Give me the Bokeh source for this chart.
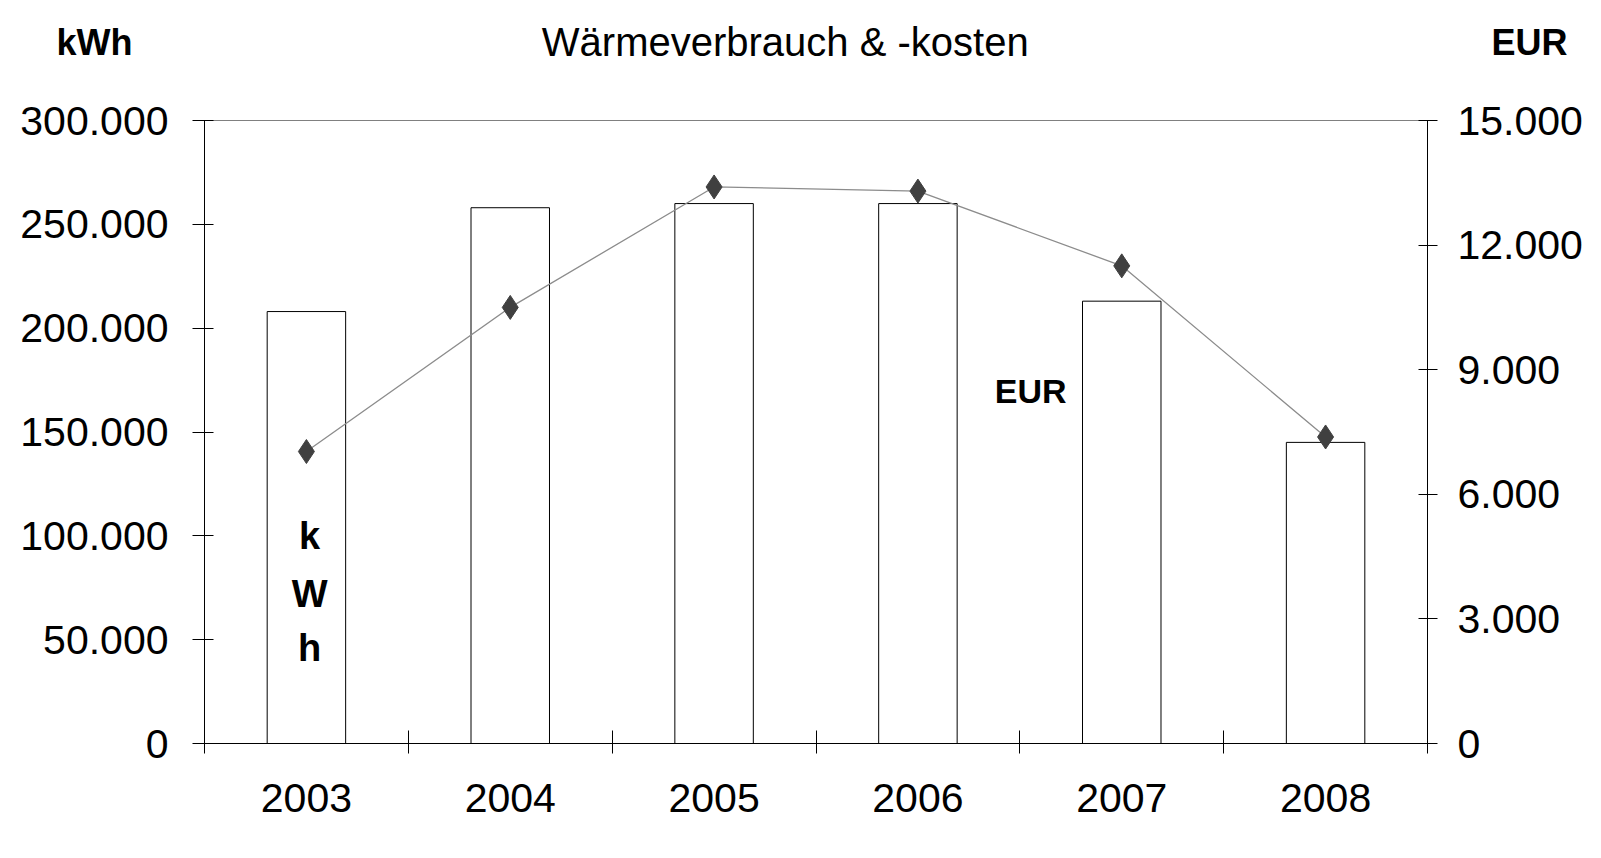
from bokeh.plotting import figure
from bokeh.layouts import column
from bokeh.models import Range1d, LinearAxis, FixedTicker, Label
from bokeh.embed import file_html
from bokeh.resources import INLINE

years = ["2003", "2004", "2005", "2006", "2007", "2008"]
kwh = [208000, 258000, 260000, 260000, 213000, 145000]
eur = [7030, 10500, 13400, 13300, 11500, 7380]
kwh_ticks = [0, 50000, 100000, 150000, 200000, 250000, 300000]
eur_ticks = [0, 3000, 6000, 9000, 12000, 15000]

title_text = "Wärmeverbrauch & -kosten"
left_unit = "kWh"
right_unit = "EUR"

FONT = "Liberation Sans"
W = 1585
BL, BR = 204, 149
HDR_H = 90
HDR_FRAME = 84
xpos = [i + 0.5 for i in range(len(years))]


def de_fmt(v):
    return f"{v:,}".replace(",", ".")


# ---- header strip: title plus unit labels (as axis labels of an empty frame) ----
top = figure(width=W, height=HDR_H, output_backend="svg", toolbar_location=None,
             x_range=Range1d(BL, W - BR), y_range=Range1d(HDR_FRAME, 0),
             min_border_left=BL, min_border_right=BR, min_border_top=0,
             min_border_bottom=HDR_H - HDR_FRAME, x_axis_type=None, y_axis_type=None)
top.xgrid.visible = False
top.ygrid.visible = False
top.outline_line_color = None
top.border_fill_color = "white"
top.background_fill_color = "white"

for side, txt, stand in (("left", left_unit, 72), ("right", right_unit, 64)):
    ax = LinearAxis(ticker=FixedTicker(ticks=[], minor_ticks=[]))
    ax.axis_line_color = None
    ax.major_tick_line_color = None
    ax.minor_tick_line_color = None
    ax.major_label_text_font_size = "0px"
    ax.axis_label = txt
    ax.axis_label_orientation = "horizontal"
    ax.axis_label_text_font = FONT
    ax.axis_label_text_font_size = "36px"
    ax.axis_label_text_font_style = "bold"
    ax.axis_label_text_color = "black"
    ax.axis_label_standoff = stand
    top.add_layout(ax, side)

top.add_layout(Label(x=789, y=41, text=title_text, text_font=FONT,
                     text_font_size="40px", text_color="black", text_align="center",
                     text_baseline="alphabetic"))

# ---- main chart ----
p = figure(width=W, height=752, output_backend="svg", toolbar_location=None,
           x_range=Range1d(0, len(years)), y_range=Range1d(0, 300000),
           min_border_left=BL, min_border_right=BR, min_border_top=30,
           min_border_bottom=99, x_axis_type=None, y_axis_type=None)
p.extra_y_ranges = {"eur": Range1d(0, 15000)}
p.xgrid.visible = False
p.ygrid.visible = False
p.outline_line_color = "#808080"
p.outline_line_width = 1
p.background_fill_color = "white"
p.border_fill_color = "white"

xa = LinearAxis(ticker=FixedTicker(ticks=xpos, minor_ticks=list(range(len(years) + 1))))
xa.major_label_overrides = {x: y for x, y in zip(xpos, years)}
xa.major_tick_in = 0
xa.major_tick_out = 0
xa.minor_tick_in = 13
xa.minor_tick_out = 10
xa.minor_tick_line_color = "black"
xa.axis_line_color = "black"
xa.major_label_text_font = FONT
xa.major_label_text_font_size = "41px"
xa.major_label_text_color = "black"
xa.major_label_standoff = 30
p.add_layout(xa, "below")

ya = LinearAxis(ticker=FixedTicker(ticks=kwh_ticks, minor_ticks=[]))
ya.major_label_overrides = {v: de_fmt(v) for v in kwh_ticks}
ya.major_tick_in = 9
ya.major_tick_out = 12
ya.major_tick_line_color = "black"
ya.axis_line_color = "black"
ya.major_label_text_font = FONT
ya.major_label_text_font_size = "41px"
ya.major_label_text_color = "black"
ya.major_label_standoff = 24
p.add_layout(ya, "left")

ra = LinearAxis(y_range_name="eur", ticker=FixedTicker(ticks=eur_ticks, minor_ticks=[]))
ra.major_label_overrides = {v: de_fmt(v) for v in eur_ticks}
ra.major_tick_in = 9
ra.major_tick_out = 10
ra.major_tick_line_color = "black"
ra.axis_line_color = "black"
ra.major_label_text_font = FONT
ra.major_label_text_font_size = "41px"
ra.major_label_text_color = "black"
ra.major_label_standoff = 20
p.add_layout(ra, "right")

p.vbar(x=xpos, top=kwh, width=0.385, bottom=0, fill_color="white",
       line_color="black", line_width=1)

p.line(x=xpos, y=eur, y_range_name="eur", line_color="#8c8c8c", line_width=1.3)
p.scatter(x=xpos, y=eur, y_range_name="eur", marker="diamond", size=24,
          fill_color="#404040", line_color="#404040")


def add_label(x, y, text, size, align="left"):
    p.add_layout(Label(x=x, y=y, text=text, text_font=FONT,
                       text_font_size=size, text_color="black",
                       text_font_style="bold",
                       text_align=align, text_baseline="alphabetic"))


add_label(3.877, 169700, right_unit, "34px")
for ch, yy in zip(left_unit, [100000, 72100, 46100]):
    add_label(0.516, yy, ch, "38px", align="center")

layout = column(top, p, spacing=0)
open("out.html", "w").write(file_html(layout, INLINE))
